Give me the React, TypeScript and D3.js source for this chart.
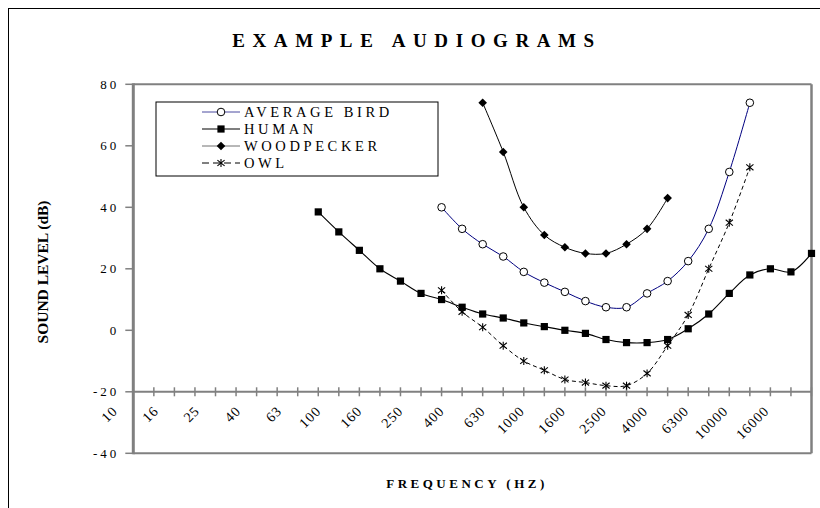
import React from "react";
import * as d3 from "d3";

const categories = ["10","12.5","16","20","25","31.5","40","50","63","80","100","125","160","200","250","315","400","500","630","800","1000","1250","1600","2000","2500","3150","4000","5000","6300","8000","10000","12500","16000","20000"];
const labelEvery = 2;
const yTicks = [80, 60, 40, 20, 0, -20, -40];

const N = null;
const averageBird = [N,N,N,N,N,N,N,N,N,N,N,N,N,N,N,40,33,28,24,19,15.5,12.5,9.5,7.5,7.5,12,16,22.5,33,51.5,74,N,N,N];
const human = [N,N,N,N,N,N,N,N,N,38.5,32,26,20,16,12,10,7.5,5.3,4,2.4,1.2,0,-1,-3,-4,-4,-3,0.5,5.3,12,18,20,19,25];
const woodpecker = [N,N,N,N,N,N,N,N,N,N,N,N,N,N,N,N,N,74,58,40,31,27,25,25,28,33,43,N,N,N,N,N,N,N];
const owl = [N,N,N,N,N,N,N,N,N,N,N,N,N,N,N,13,6,1,-5,-10,-13,-16,-17,-18,-18,-14,-5,5,20,35,53,N,N,N];

const seriesNames = ["AVERAGE BIRD", "HUMAN", "WOODPECKER", "OWL"];

const W = 820, H = 508;
const PL = 133.3, PR = 811.5, PT = 84.3, PB = 453.3;
const GREY = "#808080";
const FONT = "Liberation Serif, DejaVu Serif, Times New Roman, serif";

function Marker({ kind, x, y }: { kind: string; x: number; y: number }) {
  if (kind === "circle") return <circle cx={x} cy={y} r={3.8} fill="#fff" stroke="#000" strokeWidth={1} />;
  if (kind === "square") return <rect x={x - 3.6} y={y - 3.6} width={7.2} height={7.2} fill="#000" />;
  if (kind === "diamond") return <path d={`M${x},${y - 4.3}L${x + 4.3},${y}L${x},${y + 4.3}L${x - 4.3},${y}Z`} fill="#000" />;
  const s = 3.6;
  return (
    <g stroke="#000" strokeWidth={1.1}>
      <line x1={x - s} y1={y - s * 0.8} x2={x + s} y2={y + s * 0.8} />
      <line x1={x - s} y1={y + s * 0.8} x2={x + s} y2={y - s * 0.8} />
      <line x1={x} y1={y - s * 1.1} x2={x} y2={y + s * 1.1} />
    </g>
  );
}

export default function App() {
  const x = d3.scalePoint<string>().domain(categories).range([PL, PR]);
  const y = d3.scaleLinear().domain([-40, 80]).range([PB, PT]);

  const series = [
    { name: seriesNames[0], data: averageBird, color: "#000080", legendColor: "#4a4aa0", dash: "", marker: "circle", width: 1 },
    { name: seriesNames[1], data: human, color: "#000", legendColor: "#000", dash: "", marker: "square", width: 1.1 },
    { name: seriesNames[2], data: woodpecker, color: "#000", legendColor: "#707070", dash: "", marker: "diamond", width: 1 },
    { name: seriesNames[3], data: owl, color: "#000", legendColor: "#000", dash: "4,3", marker: "star", width: 1 },
  ];

  const line = d3
    .line<[string, number | null]>()
    .defined((d) => d[1] != null)
    .x((d) => x(d[0]) as number)
    .y((d) => y(d[1] as number))
    .curve(d3.curveCatmullRom.alpha(0.5));

  const axisY = y(-20);

  return (
    <svg width={W} height={H} style={{ position: "absolute", left: 0, top: 0, fontFamily: FONT }}>
      <rect x={0} y={0} width={W} height={H} fill="#fff" />
      <rect x={8.5} y={8.5} width={W + 20} height={H + 20} fill="none" stroke="#000" strokeWidth={1} />

      <text x={417} y={47} textAnchor="middle" fontSize={19} fontWeight="bold" letterSpacing={7.6}>
        EXAMPLE AUDIOGRAMS
      </text>

      {/* plot border */}
      <line x1={PL} y1={PT} x2={PR} y2={PT} stroke={GREY} strokeWidth={2} />
      <line x1={PR} y1={PT} x2={PR} y2={PB} stroke={GREY} strokeWidth={2.5} />
      <line x1={PL} y1={PB} x2={PR} y2={PB} stroke={GREY} strokeWidth={2} />

      {/* y axis */}
      {yTicks.map((t) => (
        <g key={t}>
          <line x1={PL - 8} x2={PL} y1={y(t)} y2={y(t)} stroke={GREY} strokeWidth={1.5} />
          <text x={PL - 14} y={y(t) + 4.5} textAnchor="end" fontSize={13} letterSpacing={3}>
            {t < 0 ? "-" + Math.abs(t) : String(t)}
          </text>
        </g>
      ))}
      <line x1={PL} x2={PL} y1={PT - 1} y2={PB + 1} stroke={GREY} strokeWidth={3} />

      {/* x axis at -20 */}
      <line x1={PL} x2={PR} y1={axisY} y2={axisY} stroke={GREY} strokeWidth={2} />
      {categories.map((c, i) =>
        i === 0 ? null : (
          <line key={c} x1={x(c)} x2={x(c)} y1={axisY - 4.5} y2={axisY + 4.5} stroke={GREY} strokeWidth={1.5} />
        )
      )}
      {categories.map((c, i) => {
        if (i % labelEvery !== 0) return null;
        const px = (x(c) as number) - 11 - 2 * c.length;
        const py = axisY + 20;
        return (
          <text key={"l" + c} x={px} y={py} textAnchor="end" fontSize={14} letterSpacing={1} transform={`rotate(-45 ${px} ${py})`}>
            {c}
          </text>
        );
      })}

      {/* series */}
      {series.map((s) => {
        const pts = categories.map((c, i) => [c, s.data[i]] as [string, number | null]);
        return (
          <g key={s.name}>
            <path d={line(pts) || ""} fill="none" stroke={s.color} strokeWidth={s.width} strokeDasharray={s.dash} />
            {pts.map((p) => (p[1] == null ? null : <Marker key={p[0]} kind={s.marker} x={x(p[0]) as number} y={y(p[1])} />))}
          </g>
        );
      })}

      {/* legend */}
      <rect x={156} y={102} width={282} height={74} fill="#fff" stroke="#000" strokeWidth={1} />
      {series.map((s, i) => {
        const ly = 112 + i * 17;
        return (
          <g key={"lg" + s.name}>
            <line x1={202} x2={240} y1={ly} y2={ly} stroke={s.legendColor} strokeWidth={s.width} strokeDasharray={s.dash ? "7,4" : ""} />
            <Marker kind={s.marker} x={221} y={ly} />
            <text x={244} y={ly + 5} fontSize={14.5} letterSpacing={3.6}>
              {s.name}
            </text>
          </g>
        );
      })}

      {/* axis titles */}
      <text transform={`translate(48 ${272}) rotate(-90)`} textAnchor="middle" fontSize={15.5} fontWeight="bold">
        SOUND LEVEL (dB)
      </text>
      <text x={467} y={488} textAnchor="middle" fontSize={13} fontWeight="bold" letterSpacing={3.5}>
        FREQUENCY (HZ)
      </text>
    </svg>
  );
}
